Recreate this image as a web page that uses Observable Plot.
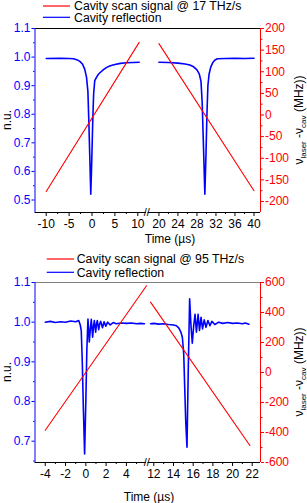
<!DOCTYPE html>
<html><head><meta charset="utf-8">
<script src="https://cdn.jsdelivr.net/npm/d3@7"></script>
<script src="https://cdn.jsdelivr.net/npm/@observablehq/plot@0.6"></script>
<style>
html,body{margin:0;padding:0;background:#fff}
#wrap{position:relative;width:307px;height:503px;overflow:hidden}
#wrap svg{display:block;position:absolute;left:0}
</style></head><body><div id="wrap"></div>
<script>
// ---------- DATA: top panel (17 THz/s) ----------
const topLegend = ["Cavity scan signal @ 17 THz/s", "Cavity reflection"];
const topScanLeftT = [-10, 10.3];
const topScanLeftM = [-177, 168];
const topScanRightT = [20, 40];
const topScanRightM = [165, -175];
const topReflLeftT = [-10, -7, -5, -4, -3.2, -2.6, -2.1, -1.6, -1.2, -0.9, -0.7, -0.5, -0.27, -0.05, 0.15, 0.35, 0.6, 1.0, 1.4, 1.85, 2.5, 3.2, 4.0, 5, 6.2, 7.5, 9, 10.3];
const topReflLeftN = [0.995, 0.996, 0.995, 0.994, 0.99, 0.984, 0.976, 0.958, 0.93, 0.88, 0.78, 0.66, 0.52, 0.64, 0.77, 0.87, 0.918, 0.93, 0.94, 0.947, 0.956, 0.964, 0.97, 0.974, 0.978, 0.98, 0.981, 0.982];
const topReflRightT = [20, 22, 24, 25.5, 26.5, 27.3, 28.0, 28.5, 28.85, 29.1, 29.35, 29.66, 29.9, 30.1, 30.3, 30.55, 30.9, 31.3, 31.8, 32.3, 34, 36, 38, 40];
const topReflRightN = [0.982, 0.981, 0.979, 0.976, 0.972, 0.966, 0.955, 0.94, 0.915, 0.84, 0.7, 0.52, 0.66, 0.8, 0.9, 0.94, 0.965, 0.98, 0.99, 0.994, 0.995, 0.996, 0.995, 0.996];
const topXMajor = [-10, -5, 0, 5, 10, 20, 24, 28, 32, 36, 40];
const topXMinor = [-7.5, -2.5, 2.5, 7.5, 22, 26, 30, 34, 38];
const topYMajor = [0.5, 0.6, 0.7, 0.8, 0.9, 1.0, 1.1];
const topYMinor = [0.55, 0.65, 0.75, 0.85, 0.95, 1.05];
const topMMajor = [-200, -150, -100, -50, 0, 50, 100, 150, 200];
const topMMinor = [-175, -125, -75, -25, 25, 75, 125, 175];

// ---------- DATA: bottom panel (95 THz/s) ----------
const botLegend = ["Cavity scan signal @ 95 THz/s", "Cavity reflection"];
const botScanLeftT = [-4, 6.0];
const botScanLeftM = [-385, 578];
const botScanRightT = [11.67, 21.76];
const botScanRightM = [469, -487];
const botReflLeftT = [-4, -3.5, -3, -2.5, -2, -1.5, -1, -0.7, -0.55, -0.45, -0.35, -0.24, -0.12, 0.0, 0.1, 0.21, 0.34, 0.45, 0.54, 0.67, 0.76, 0.84, 0.97, 1.05, 1.13, 1.27, 1.37, 1.47, 1.64, 1.8, 1.97, 2.15, 2.4, 2.7, 3, 3.5, 4, 4.5, 5, 5.4, 5.78];
const botReflLeftN = [1.0, 1.002, 0.999, 1.001, 1.0, 1.003, 1.001, 1.004, 0.993, 0.978, 0.9, 0.78, 0.668, 0.8, 0.93, 1.008, 0.95, 0.985, 1.007, 0.962, 0.99, 1.004, 0.975, 0.995, 1.004, 0.981, 0.996, 1.002, 0.986, 1.001, 0.99, 1.0, 0.993, 0.999, 0.996, 0.998, 0.997, 0.998, 0.996, 0.997, 0.996];
const botReflRightT = [11.67, 12, 12.5, 13, 13.5, 14, 14.3, 14.55, 14.75, 14.9, 15.04, 15.14, 15.24, 15.37, 15.5, 15.64, 15.78, 15.91, 16.05, 16.19, 16.33, 16.5, 16.64, 16.8, 16.95, 17.12, 17.3, 17.5, 17.7, 17.9, 18.2, 18.6, 19, 19.5, 20, 20.5, 21, 21.3, 21.66];
const botReflRightN = [0.996, 0.997, 0.995, 0.996, 0.994, 0.993, 0.991, 0.985, 0.975, 0.962, 0.92, 0.836, 0.752, 0.685, 0.878, 1.059, 0.99, 0.947, 0.99, 1.02, 0.975, 1.02, 0.979, 1.012, 0.983, 1.006, 0.987, 1.004, 0.991, 1.002, 0.994, 1.0, 0.997, 0.999, 0.997, 0.998, 0.996, 0.998, 0.995];
const botXMajor = [-4, -2, 0, 2, 4, 12, 14, 16, 18, 20, 22];
const botXMinor = [-3, -1, 1, 3, 5, 13, 15, 17, 19, 21];
const botYMajor = [0.7, 0.8, 0.9, 1.0, 1.1];
const botYMinor = [0.65, 0.75, 0.85, 0.95, 1.05];
const botMMajor = [-600, -400, -200, 0, 200, 400, 600];
const botMMinor = [-500, -300, -100, 100, 300, 500];

const xTitle = "Time (\u00b5s)";
const yTitle = "n.u.";

// ---------- STYLE ----------
const FONT = '"Liberation Sans", Arial, Helvetica, sans-serif';
const BLUE = "#0000ff", RED = "#ff0000";

function seg(T, V) { return T.map((t, i) => ({t, v: V[i]})); }

function drawPanel(p) {
  const [y0, y1] = p.yDomain, [m0, m1] = p.mDomain;
  const toY = m => y0 + (m - m0) * (y1 - y0) / (m1 - m0);
  const fromY = y => m0 + (y - y0) * (m1 - m0) / (y1 - y0);
  const xd = p.xDomain;
  const chart = Plot.plot({
    width: 307, height: p.height,
    marginLeft: p.left, marginRight: 307 - p.right, marginTop: p.top, marginBottom: p.height - p.bottom,
    x: {type: "linear", domain: xd, range: [p.left, p.breakPx, p.breakPx + 1.5, p.right]},
    y: {type: "linear", domain: p.yDomain},
    style: {fontFamily: FONT, fontSize: "12px", background: "transparent", overflow: "visible"},
    marks: [
      Plot.ruleY([y1], {x1: xd[0], x2: xd[3], stroke: p.topColor}),
      Plot.ruleY([y0], {x1: xd[0], x2: xd[1], stroke: "#000"}),
      Plot.ruleY([y0], {x1: xd[2], x2: xd[3], stroke: "#000"}),
      Plot.axisX({ticks: p.xMajor, tickSize: 4, tickPadding: 3, tickFormat: d => String(d), label: null, stroke: "#000", fill: "#000"}),
      Plot.axisX({ticks: p.xMinor, tickSize: 2, tickFormat: () => "", label: null, stroke: "#000"}),
      Plot.axisY({ticks: p.yMajor, anchor: "left", tickSize: 3, tickPadding: 1.5, tickFormat: d3.format(".1f"), color: BLUE, label: null}),
      Plot.axisY({ticks: p.yMinor, anchor: "left", tickSize: 1.5, tickFormat: () => "", color: BLUE, label: null}),
      Plot.axisY({ticks: p.mMajor.map(toY), anchor: "right", tickSize: 3, tickPadding: 1.5, tickFormat: y => String(Math.round(fromY(y))), color: RED, label: null}),
      Plot.axisY({ticks: p.mMinor.map(toY), anchor: "right", tickSize: 1.5, tickFormat: () => "", color: RED, label: null}),
      ...p.refl.map(s => Plot.line(s, {x: "t", y: "v", stroke: BLUE, strokeWidth: 1.6})),
      ...p.scan.map(s => Plot.line(s, {x: "t", y: d => toY(d.v), stroke: RED, strokeWidth: 1.1})),
      Plot.ruleX([xd[0]], {stroke: BLUE}),
      Plot.ruleX([xd[3]], {stroke: RED})
    ]
  });
  const svg = d3.select(chart);
  const sx = chart.scale("x"), sy = chart.scale("y");
  const g = svg.append("g").attr("font-family", FONT).attr("font-size", 12);
  // break marker
  g.append("text").attr("x", sx.apply(xd[1]) + 0.8).attr("y", sy.apply(y0) + 4)
    .attr("text-anchor", "middle").attr("font-size", 11).attr("fill", "#000").text("//");
  // legend
  p.legend.forEach((name, i) => {
    const y = p.legendY[i];
    g.append("line").attr("x1", p.legendX[0]).attr("x2", p.legendX[1]).attr("y1", y).attr("y2", y)
      .attr("stroke", i === 0 ? RED : BLUE).attr("stroke-width", 1.2);
    g.append("text").attr("x", p.legendX[2]).attr("y", y + 4.2).attr("text-anchor", "start")
      .attr("font-size", 12.3).attr("fill", "#000").text(name);
  });
  const cy = (p.top + p.bottom) / 2;
  // left title
  g.append("text").attr("transform", `translate(11,${cy}) rotate(-90)`).attr("text-anchor", "middle")
    .attr("fill", "#000").text(yTitle);
  // right title
  const rt = g.append("text").attr("transform", `translate(302.5,${cy}) rotate(-90)`).attr("text-anchor", "middle").attr("fill", "#000");
  rt.append("tspan").text("\u03bd");
  rt.append("tspan").attr("dy", 3).attr("font-size", 8).text("laser");
  rt.append("tspan").attr("dy", -3).text(" -\u03bd");
  rt.append("tspan").attr("dy", 3).attr("font-size", 8).text("cav");
  rt.append("tspan").attr("dy", -3).text(" (MHz))");
  // x title
  g.append("text").attr("x", p.xTitleX).attr("y", p.xTitleY).attr("text-anchor", "middle").attr("fill", "#000").text(xTitle);
  chart.style.top = p.offset + "px";
  document.getElementById("wrap").appendChild(chart);
}

drawPanel({
  offset: 0, height: 250, left: 34.5, right: 260, top: 28, bottom: 212, breakPx: 146,
  xDomain: [-12.45, 11.9, 17.7, 41.37], yDomain: [0.4563, 1.1], mDomain: [-225.4, 200],
  topColor: "#000",
  xMajor: topXMajor, xMinor: topXMinor, yMajor: topYMajor, yMinor: topYMinor, mMajor: topMMajor, mMinor: topMMinor,
  refl: [seg(topReflLeftT, topReflLeftN), seg(topReflRightT, topReflRightN)],
  scan: [seg(topScanLeftT, topScanLeftM), seg(topScanRightT, topScanRightM)],
  legend: topLegend, legendY: [6, 17.3], legendX: [43, 70, 74],
  xTitleX: 170, xTitleY: 243
});

drawPanel({
  offset: 250, height: 253, left: 34.5, right: 260, top: 32, bottom: 212, breakPx: 146,
  xDomain: [-5.01, 5.98, 11.41, 22.84], yDomain: [0.6463, 1.1], mDomain: [-600, 600],
  topColor: "#808080",
  xMajor: botXMajor, xMinor: botXMinor, yMajor: botYMajor, yMinor: botYMinor, mMajor: botMMajor, mMinor: botMMinor,
  refl: [seg(botReflLeftT, botReflLeftN), seg(botReflRightT, botReflRightN)],
  scan: [seg(botScanLeftT, botScanLeftM), seg(botScanRightT, botScanRightM)],
  legend: botLegend, legendY: [9, 22.3], legendX: [46.7, 74, 76.7],
  xTitleX: 149, xTitleY: 251
});
</script></body></html>
